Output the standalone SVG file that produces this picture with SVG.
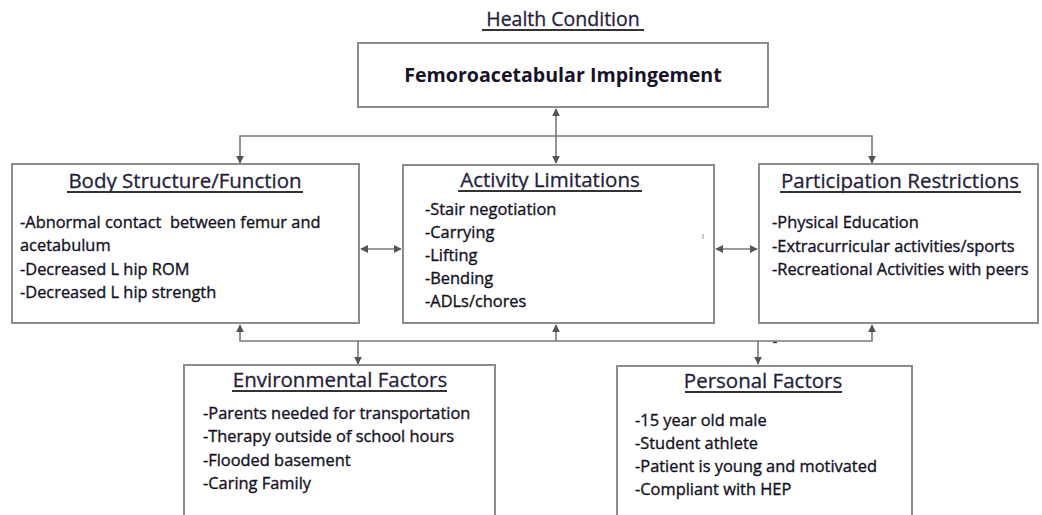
<svg xmlns="http://www.w3.org/2000/svg" width="1042" height="515" viewBox="0 0 1042 515">
  <style>
    .box { fill: #ffffff; stroke: #8c8c8c; stroke-width: 2; }
    .link { fill: none; stroke: #7a7a7a; stroke-width: 1.6; }
    .head { font-family: "Open Sans", "Liberation Sans", sans-serif; font-size: 20.5px; fill: #241d3a; stroke: #241d3a; stroke-width: 0.3; text-anchor: middle; }
    .item { font-family: "Open Sans", "Liberation Sans", sans-serif; font-size: 16.4px; fill: #14111f; stroke: #14111f; stroke-width: 0.35; white-space: pre; }
    .rule { stroke: #333333; stroke-width: 1.8; }
  </style>
  <defs>
    <marker id="tip" viewBox="0 0 10 10" refX="9" refY="5" markerWidth="8" markerHeight="8" markerUnits="userSpaceOnUse" orient="auto-start-reverse">
      <path d="M0,0 L10,5 L0,10 z" fill="#555555"/>
    </marker>
  </defs>
  <rect width="1042" height="515" fill="#ffffff"/>

  <!-- heading above the condition box -->
  <text class="head" x="563" y="26" style="font-size:19.5px">Health Condition</text>
  <line class="rule" x1="482" y1="30" x2="644" y2="30"/>

  <!-- connectors -->
  <g id="connectors">
    <line class="link" x1="556" y1="109" x2="556" y2="163" marker-start="url(#tip)" marker-end="url(#tip)"/>
    <polyline class="link" points="240,163 240,136 872,136 872,163" marker-start="url(#tip)" marker-end="url(#tip)"/>
    <line class="link" x1="361" y1="249" x2="401" y2="249" marker-start="url(#tip)" marker-end="url(#tip)"/>
    <line class="link" x1="716" y1="249" x2="757" y2="249" marker-start="url(#tip)" marker-end="url(#tip)"/>
    <polyline class="link" points="240,325 240,341 872,341 872,325" marker-start="url(#tip)" marker-end="url(#tip)"/>
    <line class="link" x1="556" y1="341" x2="556" y2="325" marker-end="url(#tip)"/>
    <line class="link" x1="358" y1="341" x2="358" y2="364" marker-end="url(#tip)"/>
    <line class="link" x1="758" y1="341" x2="758" y2="364" marker-end="url(#tip)"/>
    <line x1="773" y1="342.5" x2="777" y2="342.5" stroke="#333" stroke-width="1.4"/>
  </g>

  <g id="health-condition">
    <rect class="box" x="358" y="43" width="410" height="64"/>
    <text x="563" y="82" style="font-family:'Open Sans','Liberation Sans',sans-serif;font-size:19.6px;font-weight:bold;fill:#16122a;text-anchor:middle">Femoroacetabular Impingement</text>
  </g>

  <g id="body-structure">
    <rect class="box" x="12" y="164" width="347" height="159"/>
    <text class="head" x="185" y="188">Body Structure/Function</text>
    <line class="rule" x1="67" y1="192" x2="303" y2="192"/>
    <text class="item" x="20" y="228" xml:space="preserve">-Abnormal contact  between femur and</text>
    <text class="item" x="20" y="251">acetabulum</text>
    <text class="item" x="20" y="275">-Decreased L hip ROM</text>
    <text class="item" x="20" y="298">-Decreased L hip strength</text>
  </g>

  <g id="activity-limitations">
    <rect class="box" x="403" y="165" width="311" height="158"/>
    <text class="head" x="550" y="187">Activity Limitations</text>
    <line class="rule" x1="458" y1="191" x2="642" y2="191"/>
    <text class="item" x="425" y="215">-Stair negotiation</text>
    <text class="item" x="425" y="238">-Carrying</text>
    <text class="item" x="425" y="261">-Lifting</text>
    <text class="item" x="425" y="284">-Bending</text>
    <text class="item" x="425" y="307">-ADLs/chores</text>
    <line x1="703" y1="234" x2="703" y2="239" stroke="#9a9a9a" stroke-width="1"/>
  </g>

  <g id="participation-restrictions">
    <rect class="box" x="759" y="164" width="279" height="159"/>
    <text class="head" x="900" y="188">Participation Restrictions</text>
    <line class="rule" x1="780" y1="192" x2="1021" y2="192"/>
    <text class="item" x="772" y="228">-Physical Education</text>
    <text class="item" x="772" y="252">-Extracurricular activities/sports</text>
    <text class="item" x="772" y="275">-Recreational Activities with peers</text>
  </g>

  <g id="environmental-factors">
    <rect class="box" x="184" y="365" width="311" height="152"/>
    <text class="head" x="340" y="387">Environmental Factors</text>
    <line class="rule" x1="232" y1="391" x2="447" y2="391"/>
    <text class="item" x="203" y="419">-Parents needed for transportation</text>
    <text class="item" x="203" y="442">-Therapy outside of school hours</text>
    <text class="item" x="203" y="466">-Flooded basement</text>
    <text class="item" x="203" y="489">-Caring Family</text>
  </g>

  <g id="personal-factors">
    <rect class="box" x="617" y="366" width="295" height="151"/>
    <text class="head" x="763" y="388">Personal Factors</text>
    <line class="rule" x1="685" y1="392" x2="842" y2="392"/>
    <text class="item" x="635" y="426">-15 year old male</text>
    <text class="item" x="635" y="449">-Student athlete</text>
    <text class="item" x="635" y="472">-Patient is young and motivated</text>
    <text class="item" x="635" y="495">-Compliant with HEP</text>
  </g>
</svg>
